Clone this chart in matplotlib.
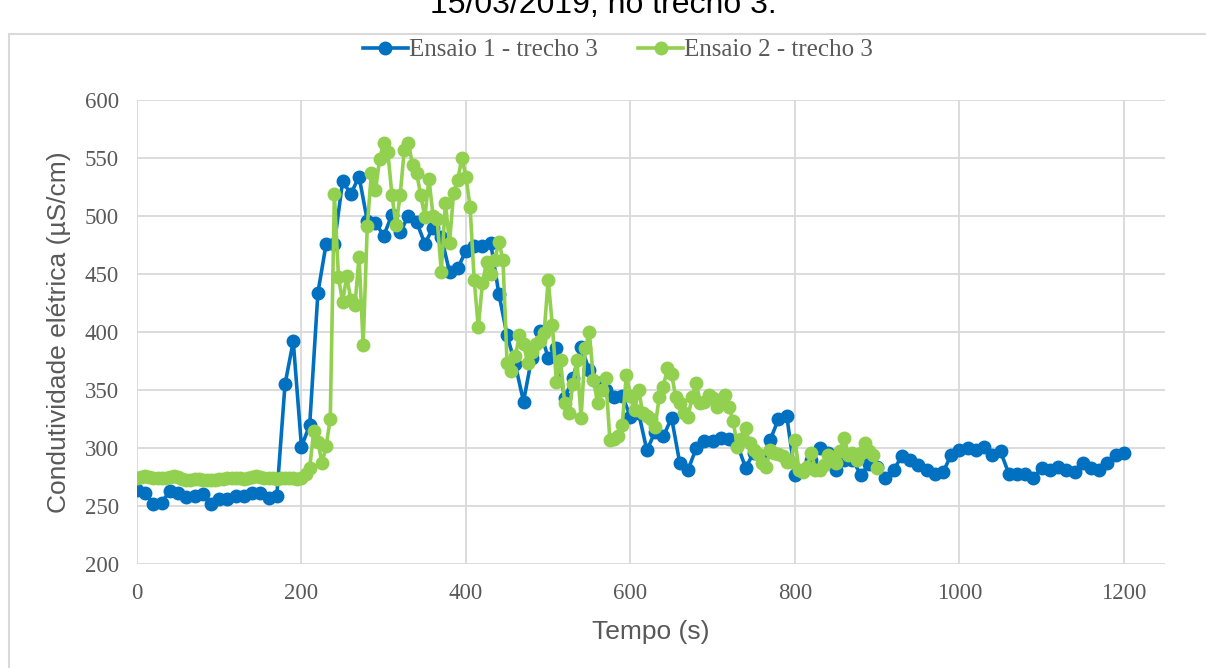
import matplotlib.pyplot as plt
from matplotlib.patches import Rectangle
import numpy as np

# Ensaio 1 - one reading every 10 s, 0..1200 s
tempo1 = np.arange(0, 1201, 10)
ensaio1 = [264, 261, 252, 253, 263, 261, 258, 259, 260, 252,
           256, 256, 259, 259, 261, 261, 257, 259, 355, 392,
           301, 320, 434, 476, 476, 530, 519, 534, 496, 494,
           483, 501, 486, 500, 495, 476, 490, 482, 452, 455,
           470, 474, 474, 477, 433, 397, 372, 340, 378, 401,
           378, 386, 343, 360, 387, 367, 356, 350, 344, 345,
           327, 330, 298, 314, 310, 326, 287, 281, 300, 306,
           306, 309, 308, 303, 283, 296, 292, 307, 325, 328,
           277, 280, 290, 300, 296, 281, 290, 290, 277, 286,
           284, 274, 281, 293, 290, 285, 281, 278, 279, 294,
           298, 300, 298, 301, 294, 297, 278, 278, 278, 274,
           283, 281, 284, 281, 279, 287, 283, 281, 287, 294,
           296]

# Ensaio 2 - one reading every 5 s, 0..900 s
tempo2 = np.arange(0, 901, 5)
ensaio2 = [274, 275, 276, 275, 274, 274, 274, 274, 275, 276,
           275, 273, 272, 272, 273, 273, 272, 272, 272, 272,
           273, 273, 274, 274, 274, 274, 273, 274, 275, 276,
           275, 274, 274, 274, 273, 274, 274, 274, 274, 273,
           274, 278, 283, 315, 305, 287, 302, 325, 519, 447,
           426, 448, 428, 423, 465, 389, 491, 537, 522, 549,
           563, 555, 518, 492, 518, 557, 563, 544, 537, 518,
           499, 532, 500, 497, 452, 511, 477, 520, 531, 550,
           534, 508, 445, 404, 442, 460, 450, 462, 478, 462,
           373, 366, 379, 397, 390, 373, 383, 390, 392, 399,
           445, 406, 357, 376, 339, 330, 355, 376, 326, 386,
           400, 359, 339, 350, 360, 307, 308, 310, 320, 363,
           345, 333, 350, 330, 328, 325, 318, 344, 353, 369,
           364, 344, 339, 330, 327, 344, 356, 339, 340, 346,
           343, 335, 339, 346, 335, 323, 301, 308, 317, 304,
           298, 295, 287, 284, 298, 296, 295, 293, 288, 288,
           307, 281, 279, 284, 296, 281, 281, 285, 294, 290,
           287, 297, 309, 294, 296, 290, 296, 304, 297, 294,
           283]

titulo = "15/03/2019, no trecho 3."
serie1 = "Ensaio 1 - trecho 3"
serie2 = "Ensaio 2 - trecho 3"

azul = "#0070C0"
verde = "#92D050"
cinza = "#595959"

fig = plt.figure(figsize=(12.06, 6.68), dpi=100)
ax = fig.add_axes([137/1206, 1-564/668, (1165-137)/1206, (564-100)/668])

# chart area border (Excel style), partly outside the picture
fig.patches.append(Rectangle((9/1206, -0.05), 1.2, 1-34/668+0.05,
                             transform=fig.transFigure, fill=False,
                             edgecolor="#d9d9d9", linewidth=1.5))

ax.plot(tempo1, ensaio1, color=azul, lw=2.6, marker="o", ms=9, label=serie1, zorder=3)
ax.plot(tempo2, ensaio2, color=verde, lw=2.6, marker="o", ms=9, label=serie2, zorder=4)

ax.set_xlim(0, 1250)
ax.set_ylim(200, 600)
ax.set_xticks(range(0, 1201, 200))
ax.set_yticks(range(200, 601, 50))
ax.grid(True, color="#d9d9d9", linewidth=1.3)
ax.set_axisbelow(True)
for s in ax.spines.values():
    s.set_visible(False)
ax.tick_params(length=0, labelsize=16.5, labelcolor=cinza)
ax.tick_params(axis="y", pad=13)
ax.tick_params(axis="x", pad=14)
for lab in ax.get_xticklabels() + ax.get_yticklabels():
    lab.set_family("Liberation Serif")

ax.set_xlabel("Tempo (s)", fontsize=19, color=cinza, family="Liberation Sans", labelpad=11)
ax.set_ylabel("Condutividade elétrica (µS/cm)", fontsize=19, color=cinza,
              family="Liberation Sans", labelpad=10)

fig.legend(loc="center", bbox_to_anchor=(618/1206, 1-50/668), ncol=2, frameon=False,
           prop={"family": "Liberation Serif", "size": 18}, labelcolor=cinza,
           handlelength=1.8, columnspacing=1.6, handletextpad=0.05)

fig.text(0.5, 1-13/668, titulo, ha="center", va="baseline", fontsize=23,
         family="Liberation Sans", color="black")

fig.savefig("out.png", dpi=100)
